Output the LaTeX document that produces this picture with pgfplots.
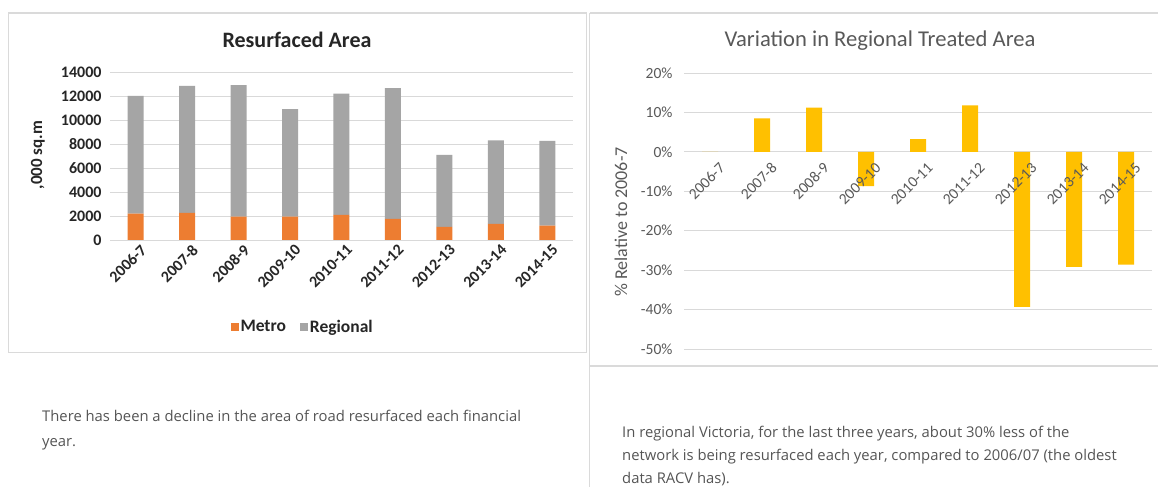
\documentclass[border=0pt]{standalone}
\usepackage{fontspec}
\setmainfont{Carlito}
\newfontfamily\capfont{Open Sans}
\usepackage{pgfplots}
\pgfplotsset{compat=1.18}
\definecolor{metro}{HTML}{ED7D31}
\definecolor{regional}{HTML}{A5A5A5}
\definecolor{gold}{HTML}{FFC000}
\definecolor{frame}{HTML}{DADADA}
\definecolor{gridc}{HTML}{D9D9D9}
\definecolor{txtl}{HTML}{262626}
\definecolor{txtr}{HTML}{595959}
\definecolor{cap}{HTML}{555555}
\begin{document}
\begin{tikzpicture}[x=1pt,y=1pt]
\useasboundingbox (0,0) rectangle (1158,487);
\fill[white] (0,0) rectangle (1158,487);
% frames
\draw[frame, line width=1.6pt] (8.5,474) rectangle (586.5,134.5);
\draw[frame, line width=1.6pt] (590,474) -- (1162,474);
\draw[frame, line width=1.6pt] (590,121) -- (1162,121);
\draw[frame, line width=1.2pt] (589.5,474) -- (589.5,0);
% titles
\node[font=\bfseries\fontsize{22}{25}\selectfont, text=txtl] at (297,447) {Resurfaced Area};
\node[font=\fontsize{22.6}{25}\selectfont, text=txtr] at (880,446) {Variation in Regional Treated Area};
% left chart
\begin{axis}[
  at={(110pt,247pt)}, anchor=south west, scale only axis,
  width=463pt, height=168pt,
  ymin=0, ymax=14000, xmin=-0.5, xmax=8.5,
  ybar stacked, bar width=16pt,
  ytick={0,2000,...,14000}, scaled y ticks=false,
  xtick={0,...,8},
  xticklabels={2006-7,2007-8,2008-9,2009-10,2010-11,2011-12,2012-13,2013-14,2014-15},
  ymajorgrids, grid style={gridc, line width=0.8pt},
  axis line style={draw=none}, tick style={draw=none},
  /pgf/number format/assume math mode=true,
  /pgf/number format/1000 sep={},
  tick label style={font=\bfseries\fontsize{16}{18}\selectfont, text=txtl},
  y tick label style={xshift=-5pt},
  x tick label style={rotate=45, anchor=north east, xshift=4pt, yshift=-2pt},
  ylabel={,000 sq.m},
  every axis y label/.style={at={(-0.1555,0.506)}, rotate=90, anchor=center, font=\bfseries\fontsize{17}{19}\selectfont, text=txtl},
  legend style={at={(0.416,-0.518)}, anchor=center, legend columns=2, draw=none, fill=none,
    font=\bfseries\fontsize{17.5}{19}\selectfont, text=txtl,
    /tikz/every even column/.append style={column sep=12pt}},
  legend image code/.code={\fill[#1] (0pt,-4pt) rectangle (8pt,4pt);},
]
\addplot[fill=metro, draw=none] coordinates {(0,2200) (1,2250) (2,1950) (3,1950) (4,2100) (5,1750) (6,1100) (7,1350) (8,1200)};
\addplot[fill=regional, draw=none] coordinates {(0,9800) (1,10600) (2,10950) (3,8950) (4,10100) (5,10900) (6,6000) (7,6950) (8,7050)};
\legend{Metro,Regional}
\end{axis}
% right chart
\begin{axis}[
  at={(684pt,138pt)}, anchor=south west, scale only axis,
  width=468pt, height=276pt,
  ymin=-50, ymax=20, xmin=-0.5, xmax=8.5,
  ybar, bar width=16pt,
  ytick={-50,-40,...,20},
  yticklabel={\pgfmathprintnumber{\tick}\%},
  xtick=\empty,
  ymajorgrids, grid style={gridc, line width=0.8pt},
  axis line style={draw=none}, tick style={draw=none},
  /pgf/number format/assume math mode=true,
  tick label style={font=\fontsize{15.5}{17}\selectfont, text=txtr},
  y tick label style={xshift=-8pt},
  ylabel={\% Relative to 2006-7},
  every axis y label/.style={at={(-0.1346,0.46)}, rotate=90, anchor=center, font=\fontsize{18}{20}\selectfont, text=txtr},
]
\addplot[fill=gold, draw=none] coordinates {(0,0) (1,8.5) (2,11.2) (3,-8.7) (4,3.2) (5,11.8) (6,-39.3) (7,-29.2) (8,-28.6)};
\end{axis}
% overlay axis: category labels drawn on top of the bars
\begin{axis}[
  at={(684pt,138pt)}, anchor=south west, scale only axis,
  width=468pt, height=276pt,
  ymin=-50, ymax=20, xmin=-0.5, xmax=8.5,
  ytick=\empty,
  xtick={0,...,8},
  xticklabels={2006-7,2007-8,2008-9,2009-10,2010-11,2011-12,2012-13,2013-14,2014-15},
  axis x line=middle, axis y line=none, hide obscured x ticks=false,
  axis line style={draw=none,-}, tick style={draw=none},
  tick label style={font=\fontsize{15.5}{17}\selectfont, text=txtr},
  x tick label style={rotate=45, anchor=north east, xshift=4pt, yshift=-8pt},
]
\end{axis}
% captions
\begin{scope}[font=\capfont\fontsize{14.8}{18}\selectfont, text=cap]
\node[anchor=base west, inner sep=0] at (42,65) {There has been a decline in the area of road resurfaced each financial};
\node[anchor=base west, inner sep=0] at (42,41) {year.};
\node[anchor=base west, inner sep=0] at (622,50) {In regional Victoria, for the last three years, about 30\% less of the};
\node[anchor=base west, inner sep=0] at (622,27) {network is being resurfaced each year, compared to 2006/07 (the oldest};
\node[anchor=base west, inner sep=0] at (622,4) {data RACV has).};
\end{scope}
\end{tikzpicture}
\end{document}
